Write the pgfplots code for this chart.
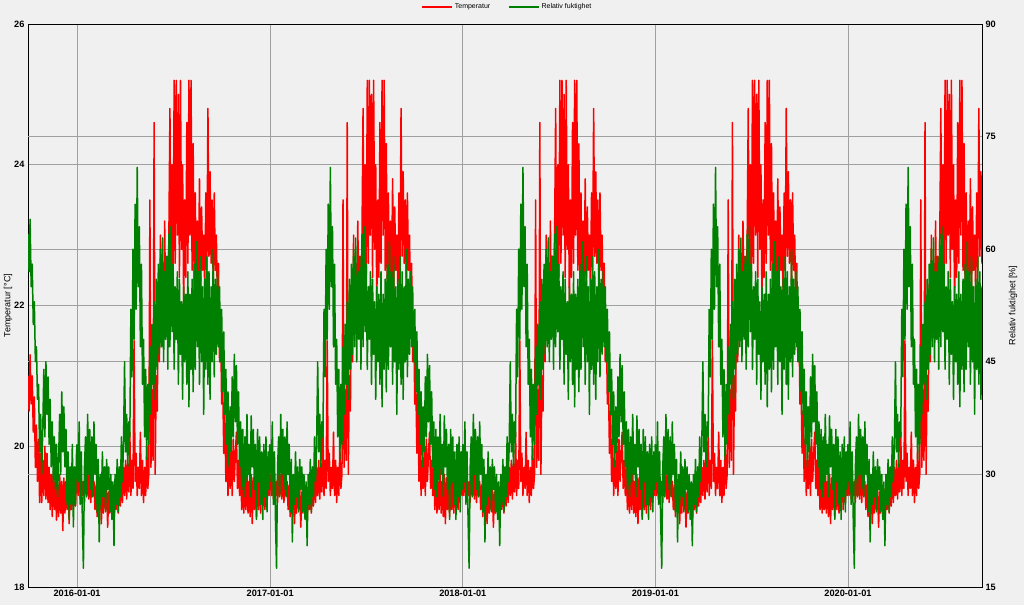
\documentclass[border=0pt]{standalone}
\usepackage{pgfplots}
\pgfplotsset{compat=1.18}
\usepackage{pgfplotstable}
\usepackage{fontspec}
\setmainfont{Liberation Sans}
\definecolor{bg}{HTML}{F0F0F0}
\definecolor{gridc}{HTML}{A0A0A0}
\definecolor{tgreen}{HTML}{008000}

% one yearly cycle (day of year, temperature, relative humidity)
\pgfplotstableread{
d T RH
0 19.6 34
2 19.3 29
4 19.7 37
6 19.25 26
8 19.55 33
10 19.3 24
12 19.5 17.5
14 19.2 31
16 19.65 35
18 19.3 27
20 19.6 38
22 19.25 30
24 19.7 36
26 19.2 28
28 19.55 35
30 19.3 27
32 19.5 37
34 19.1 30
36 19.45 34
38 19.0 25
40 19.4 32
42 19.1 21
44 19.45 30
46 18.9 26
48 19.35 33
50 19.05 27
52 19.5 31
54 19.1 25
56 19.4 32
58 18.85 28
60 19.35 31
62 19.05 25
64 19.45 30
66 19.1 24
68 19.4 29
70 18.9 20.5
72 19.35 30
74 19.1 26
76 19.5 32
78 19.05 25
80 19.45 31
82 19.15 27
84 19.65 35
86 19.2 29
88 19.7 34
90 19.3 45
92 19.8 33
94 19.25 38
96 19.75 31
98 19.35 37
100 20.2 35
102 19.3 52
104 19.8 43
106 19.4 60
108 21.5 48
110 19.5 66
112 19.9 52
114 19.3 70.9
116 19.7 55
118 19.4 63
120 20.2 47
122 19.3 58
124 19.8 42
126 19.2 48
128 19.7 35
130 19.3 44
132 20.0 32
134 19.4 42
136 19.6 34
138 23.5 47
140 19.7 38
142 20.8 50
144 19.8 42
146 24.6 53
148 19.6 40
150 21.0 56
152 20.5 44
154 22.3 58
156 21.2 46
158 23.0 60
160 21.5 47
162 22.6 61.5
164 21.6 45
166 23.2 57
168 21.8 48
170 22.7 59
172 21.9 44
174 23.0 62
176 24.8 47
178 22.2 63
180 24.0 49
182 22.4 58
184 25.2 44
186 22.6 55
188 25.2 48
190 23.0 57
192 25.0 42
194 22.4 56
196 25.2 46
198 22.8 53
200 24.0 40
202 22.0 55
204 23.5 45
206 22.4 54
208 24.6 42
210 22.6 57
212 25.2 39
214 23.0 54
216 25.2 44
218 22.5 56
220 24.3 41
222 22.2 58
224 23.6 44
226 22.0 61
228 23.2 47
230 22.3 57
232 23.8 42
234 22.1 59
236 23.4 45
238 22.5 55
240 23.0 38
242 22.2 56
244 23.6 44
246 22.5 59
248 24.8 42
250 22.7 57
252 23.9 40
254 22.6 55
256 23.5 45
258 22.3 60
260 23.6 43
262 22.5 56
264 23.0 46
266 22.0 57
268 22.6 47
270 21.2 55
272 21.8 45
274 20.6 52
276 20.9 41
278 19.9 49
280 20.5 38
282 19.5 44
284 20.1 34
286 19.3 41
288 19.8 31
290 19.4 39
292 20.0 33
294 19.3 43
296 20.1 35
298 19.5 46
300 19.9 37
302 20.2 44.5
304 19.4 34
306 19.8 41
308 19.3 31
310 19.7 37
312 19.1 28
314 19.6 36
316 19.05 27
318 19.5 35
320 19.1 29
322 19.7 38
324 19.05 30
326 19.5 34
328 19.0 27
330 19.6 37.8
332 18.9 31
334 19.55 36
336 19.1 28
338 19.5 34
340 19.0 24
342 19.55 36
344 19.1 29
346 19.6 35
348 19.05 26
350 19.55 33
352 19.15 24
354 19.6 34
356 19.1 27
358 19.55 35
360 19.2 25
362 19.6 33
364 19.3 28
365 19.6 34
}\cycle

% autumn 2015 (days before 2016-01-01)
\pgfplotstableread{
d T RH
-93 21.0 62
-91 20.5 57
-89 21.3 64
-87 20.6 55
-85 21.0 58
-83 20.2 50
-81 20.7 53
-79 19.7 45
-77 20.3 47
-75 19.5 40
-73 20.1 42
-71 19.2 33
-69 19.9 38
-67 19.2 30
-65 19.8 36
-63 19.3 44
-61 20.0 35
-59 19.25 45
-57 19.9 38
-55 19.2 43
-53 19.7 34
-51 19.1 40
-49 19.6 31
-47 19.0 37
-45 19.65 29
-43 19.1 35
-41 19.5 28
-39 18.95 34
-37 19.45 27
-35 19.0 32
-33 19.6 38
-31 19.05 30
-29 19.5 41
-27 18.8 33
-25 19.55 39
-23 19.05 31
-21 19.5 36
-19 19.1 26
-17 19.55 33
-15 18.9 24
-13 19.45 31
-11 19.1 26
-9 19.5 34
-7 19.1 23
-5 19.55 31
-3 19.15 26
-1 19.5 33
0 19.6 34
}\startyr

\begin{document}
\begin{tikzpicture}[x=1pt,y=1pt]
\fill[bg] (0,0) rectangle (1024,605);
\begin{axis}[
  at={(28pt,18pt)}, anchor=south west, scale only axis,
  width=954pt, height=563pt,
  xmin=-93, xmax=1715, ymin=18, ymax=26,
  xtick={0,366,731,1096,1461},
  xticklabels={2016-01-01,2017-01-01,2018-01-01,2019-01-01,2020-01-01},
  ytick={18,20,22,24,26},
  extra y ticks={19.6,21.2,22.8,24.4},
  extra y tick labels={},
  extra y tick style={grid=major},
  yticklabel pos=left,
  xmajorgrids, ymajorgrids,
  grid style={gridc, line width=0.8pt},
  major tick length=0pt,
  tick label style={font=\bfseries\fontsize{9.2}{10}\selectfont},
  /pgf/number format/assume math mode=true,
  ylabel={Temperatur [°C]},
  ylabel style={at={(axis description cs:-0.021,0.5)}, anchor=center, font=\fontsize{9}{10}\selectfont},
  axis line style={black, line width=1pt},
  clip=true,
]
\addplot[red, line width=1.5pt, line join=round, forget plot] table[x=d, y=T]{\startyr};
\pgfplotsinvokeforeach{0,366,731,1096,1461}{
  \addplot[red, line width=1.5pt, line join=round, forget plot] table[x expr=\thisrow{d}+#1, y=T]{\cycle};
}
\end{axis}
\begin{axis}[
  at={(28pt,18pt)}, anchor=south west, scale only axis,
  width=954pt, height=563pt,
  xmin=-93, xmax=1715, ymin=15, ymax=90,
  axis y line*=right, axis x line=none,
  ytick={15,30,45,60,75,90},
  major tick length=0pt,
  tick label style={font=\bfseries\fontsize{9.2}{10}\selectfont},
  /pgf/number format/assume math mode=true,
  ylabel={Relativ fuktighet [\%]},
  ylabel style={at={(axis description cs:1.0325,0.5)}, anchor=center, font=\fontsize{9}{10}\selectfont},
  axis line style={black, line width=1pt},
  clip=true,
  legend style={at={(0.5026,1.0302)}, anchor=center, draw=none, fill=none,
    font=\fontsize{7}{8}\selectfont, legend columns=2,
    /tikz/every even column/.append style={column sep=16pt}},
  legend image code/.code={\draw[#1] (0pt,0pt) -- (30pt,0pt);},
]
\addplot[tgreen, line width=1.5pt, line join=round, forget plot] table[x=d, y=RH]{\startyr};
\pgfplotsinvokeforeach{0,366,731,1096,1461}{
  \addplot[tgreen, line width=1.5pt, line join=round, forget plot] table[x expr=\thisrow{d}+#1, y=RH]{\cycle};
}
\addlegendimage{red, line width=1.3pt}
\addlegendentry{Temperatur}
\addlegendimage{tgreen, line width=1.3pt}
\addlegendentry{Relativ fuktighet}
\end{axis}
\pgfresetboundingbox
\path[use as bounding box] (0,0) rectangle (1024,605);
\end{tikzpicture}
\end{document}
